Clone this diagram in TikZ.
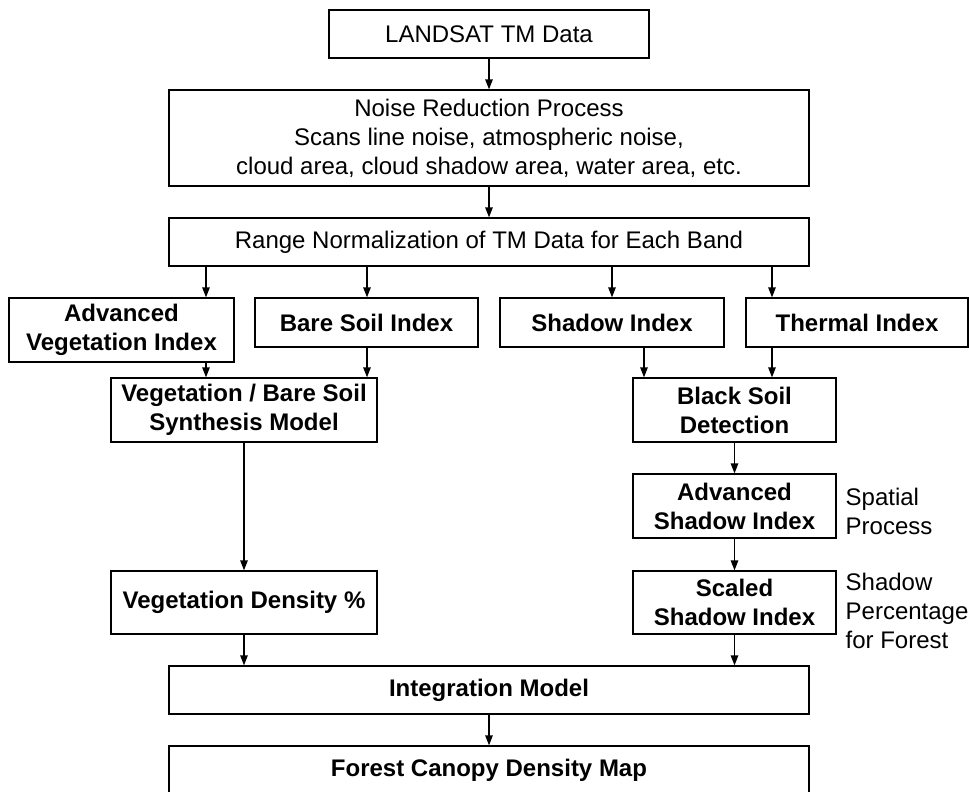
\documentclass[tikz,border=0pt]{standalone}
\usepackage{fontspec}
\setmainfont{Liberation Sans}
\usetikzlibrary{arrows.meta}

\begin{document}
\begin{tikzpicture}[x=1pt,y=-1pt,->,>={Triangle[length=10pt,width=7.5pt]},
  line width=1.3pt,
  box/.style={draw,rectangle,inner sep=0pt,align=center,
    font=\fontsize{24}{29}\selectfont},
  bold box/.style={box,font=\fontsize{24}{29}\selectfont\bfseries},
  side note/.style={anchor=west,align=left,inner sep=0pt,
    font=\fontsize{24}{29}\selectfont}]

  \useasboundingbox (0,0) rectangle (969,792);

  \node[box,minimum width=320,minimum height=48] (landsat) at (489,34) {LANDSAT TM Data};
  \node[box,minimum width=640,minimum height=96] (noise) at (489,138)
    {Noise Reduction Process\\Scans line noise, atmospheric noise,\\cloud area, cloud shadow area, water area, etc.};
  \node[box,minimum width=640,minimum height=48] (range) at (489,242) {Range Normalization of TM Data for Each Band};

  \node[bold box,minimum width=225,minimum height=64] (avi) at (121.5,330) {Advanced\\Vegetation Index};
  \node[bold box,minimum width=223,minimum height=49] (bsi) at (366.5,322.5) {Bare Soil Index};
  \node[bold box,minimum width=224,minimum height=49] (si) at (612,322.5) {Shadow Index};
  \node[bold box,minimum width=222,minimum height=49] (ti) at (857,322.5) {Thermal Index};

  \node[bold box,minimum width=266,minimum height=64] (vbs) at (244,410) {Vegetation / Bare Soil\\Synthesis Model};
  \node[bold box,minimum width=203,minimum height=64] (bsd) at (734.5,410) {Black Soil\\Detection};
  \node[bold box,minimum width=203,minimum height=64] (asi) at (734.5,506) {Advanced\\Shadow Index};
  \node[bold box,minimum width=266,minimum height=63] (vd) at (244,602.5) {Vegetation Density \%};
  \node[bold box,minimum width=203,minimum height=63] (ssi) at (734.5,602.5) {Scaled\\Shadow Index};

  \node[bold box,minimum width=640,minimum height=48] (integ) at (489,690) {Integration Model};
  \node[bold box,minimum width=640,minimum height=48] (fcd) at (489,770) {Forest Canopy Density Map};

  \node[side note] (spatial) at (845,511) {Spatial\\Process};
  \node[side note] (shpct) at (845,611) {Shadow\\Percentage\\for Forest};

  % columns of the arrows
  \coordinate (c1) at (206,0);
  \coordinate (c2) at (367,0);
  \coordinate (c3) at (612,0);
  \coordinate (c4) at (772,0);
  \coordinate (c5) at (644,0);

  \path
    (landsat) edge (noise)
    (noise) edge (range)
    (range.south -| c1) edge (avi.north -| c1)
    (range.south -| c2) edge (bsi.north -| c2)
    (range.south -| c3) edge (si.north -| c3)
    (range.south -| c4) edge (ti.north -| c4)
    (avi.south -| c1) edge (vbs.north -| c1)
    (bsi.south -| c2) edge (vbs.north -| c2)
    (si.south -| c5) edge (bsd.north -| c5)
    (ti.south -| c4) edge (bsd.north -| c4)
    (bsd) edge (asi)
    (asi) edge (ssi)
    (vbs) edge (vd)
    (vd) edge (integ.north -| vd)
    (ssi) edge (integ.north -| ssi)
    (integ) edge (fcd);
\end{tikzpicture}
\end{document}
